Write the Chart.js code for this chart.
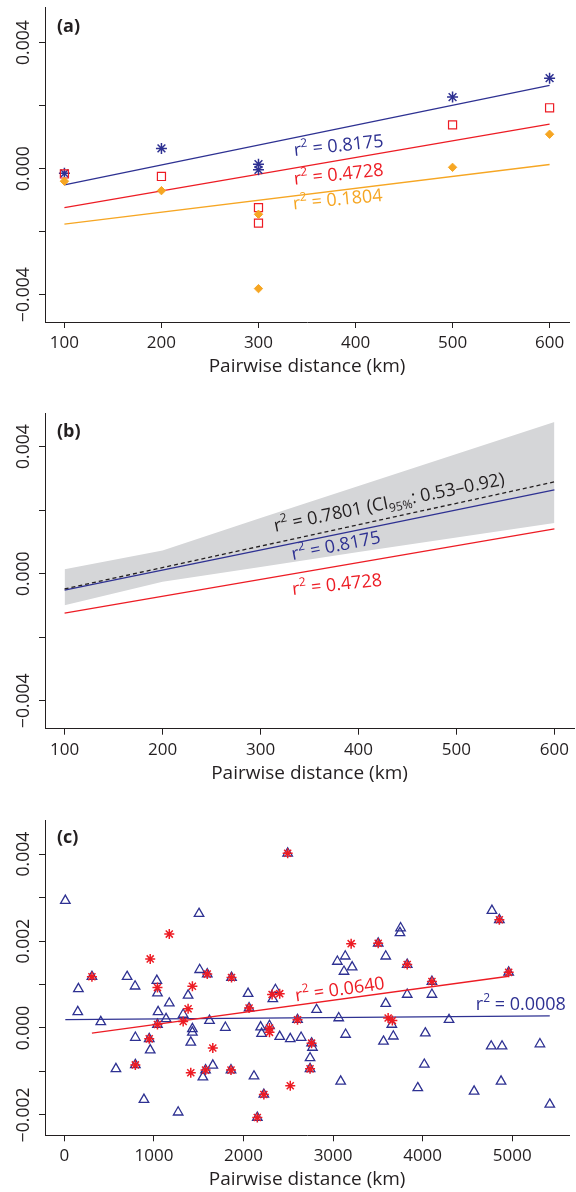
<!DOCTYPE html>
<html>
<head>
<meta charset="utf-8">
<script src="https://cdn.jsdelivr.net/npm/chart.js@4.4.1/dist/chart.umd.min.js"></script>
<style>
  html, body { margin: 0; padding: 0; background: #fff; }
  #wrap { position: relative; width: 576px; height: 1192px; }
  canvas { position: absolute; left: 0; }
</style>
</head>
<body>
<div id="wrap">
  <canvas id="pa" width="576" height="382" style="top:0px"></canvas>
  <canvas id="pb" width="576" height="389" style="top:400px"></canvas>
  <canvas id="pc" width="576" height="402" style="top:790px"></canvas>
</div>
<script>
// panel (a)
var distA = [100, 200, 300, 300, 500, 600];
var blueA = [-0.00015, 0.00064, 0.00014, -0.00004, 0.00227, 0.00287];
var redA = [-0.00017, -0.00025, -0.00124, -0.00173, 0.00139, 0.00193];
var orangeA = [-0.0004, -0.0007, -0.00145, -0.00381, 0.00004, 0.00109];
var fitX = [100, 600];
var blueFit = [-0.00052, 0.00264];
var redFit = [-0.00124, 0.00141];
var orangeFit = [-0.00176, 0.00013];

// panel (b)
var bandX = [100, 200, 300, 400, 500, 600];
var bandUpper = [0.00014, 0.00073, 0.00175, 0.00276, 0.00377, 0.00478];
var bandLower = [-0.00099, -0.00025, 0.00021, 0.00068, 0.00114, 0.0016];
var meanFit = [-0.00048, 0.00289];

// panel (c)
var triX = [10, 156, 149, 406, 307, 700, 789, 1032, 1039, 1171, 1046, 1135, 1039, 792, 947, 958, 792, 575, 888, 1270,
  1503, 1510, 1595, 1866, 1381, 2051, 2356, 2327, 2062, 1326, 1620, 1797, 1429, 1429, 1411, 2603, 2191, 2202, 2290,
  2404, 2522, 2643, 1657, 1576, 1546, 1860, 2117, 2227, 2154, 2493,
  3754, 3747, 3504, 3048, 3136, 3213, 3122, 3588, 3828, 2816, 3063, 3588, 3828, 4104, 4104, 3656, 3673, 3563, 3140,
  4030, 2760, 2770, 2743, 2743, 3085, 4019, 3946,
  4774, 4857, 4961, 4295, 4766, 4887, 5310, 4876, 4575, 5420];
var triY = [0.00293, 0.0009, 0.00037, 0.00014, 0.00118, 0.00118, 0.00096, 0.00109, 0.0008, 0.00057, 0.00037, 0.00021, 0.00008, -0.00022, -0.00025, -0.00051, -0.00085, -0.00094, -0.00165, -0.00194,
  0.00263, 0.00134, 0.00124, 0.00116, 0.00075, 0.00079, 0.00088, 0.00067, 0.00046, 0.00031, 0.00017, 0.00001, -0.00002, -0.0001, -0.00033, 0.00019, 0.00002, -0.00013, 0.00005,
  -0.0002, -0.00025, -0.00022, -0.00086, -0.00097, -0.00113, -0.00097, -0.00111, -0.00153, -0.00206, 0.00402,
  0.0023, 0.00219, 0.00195, 0.00153, 0.00165, 0.0014, 0.0013, 0.00165, 0.00146, 0.00042, 0.00023, 0.00056, 0.00077, 0.00107, 0.00077, 0.00008, -0.00019, -0.00031, -0.00015,
  -0.00012, -0.00035, -0.00045, -0.00069, -0.00094, -0.00123, -0.00084, -0.00138,
  0.0027, 0.00249, 0.00128, 0.00019, -0.00042, -0.00042, -0.00037, -0.00123, -0.00146, -0.00176];
var starX = [307, 947, 792, 1039, 1171, 958, 1039, 1595, 1866, 1429, 1381, 1326, 2493, 2319, 2404, 2062, 2603, 2290,
  2290, 1657, 1411, 1576, 1860, 2522, 2227, 2154, 3202, 3504, 3828, 4104, 3615, 3662, 2760, 2743, 4857, 4961];
var starY = [0.00118, -0.00025, -0.00085, 0.00008, 0.00216, 0.00159, 0.00093, 0.00124, 0.00116, 0.00096, 0.00044, 0.00015, 0.00402, 0.00077, 0.00079, 0.00046, 0.00019, 0,
  -0.0001, -0.00046, -0.00103, -0.00097, -0.00097, -0.00133, -0.00153, -0.00206, 0.00194, 0.00195, 0.00146, 0.00107, 0.00023, 0.00017, -0.00035, -0.00094, 0.00249, 0.00128];
var triFitX = [10, 5420];
var triFit = [0.00019, 0.00028];
var starFitX = [307, 4961];
var starFit = [-0.00012, 0.00119];

// ticks
var kmTicks = [100, 200, 300, 400, 500, 600];
var kmTicksC = [0, 1000, 2000, 3000, 4000, 5000];
var yTicksAB = [-0.004, -0.002, 0, 0.002, 0.004];
var yLabelsAB = ['\u22120.004', '', '0.000', '', '0.004'];
var yTicksC = [-0.002, -0.001, 0, 0.001, 0.002, 0.003, 0.004];
var yLabelsC = ['\u22120.002', '', '0.000', '', '0.002', '', '0.004'];

var BLUE = '#2e3192', RED = '#ed1c24', ORANGE = '#f6a623', INK = '#231f20', BAND = '#d5d6d8';
var FAMILY = '"Open Sans", sans-serif';

function pts(xs, ys) {
  return xs.map(function (x, i) { return { x: x, y: ys[i] }; });
}

function fitLine(xs, ys, color, extra) {
  var d = { type: 'scatter', data: pts(xs, ys), showLine: true, borderColor: color, borderWidth: 1.3,
    pointRadius: 0, fill: false, order: 5 };
  for (var k in extra) d[k] = extra[k];
  return d;
}

function rsq(val) {
  return [['r', 18, 0], ['2', 12, -8], [' = ' + val, 18, 0]];
}

function drawParts(ctx, parts, x, y, deg, color) {
  ctx.save();
  ctx.translate(x, y);
  ctx.rotate(deg * Math.PI / 180);
  ctx.fillStyle = color;
  ctx.textAlign = 'left';
  ctx.textBaseline = 'alphabetic';
  var cx = 0;
  parts.forEach(function (p) {
    ctx.font = p[1] + 'px ' + FAMILY;
    ctx.fillText(p[0], cx, p[2]);
    cx += ctx.measureText(p[0]).width;
  });
  ctx.restore();
}

function labelPad(labels) {
  var c = document.createElement('canvas').getContext('2d');
  c.font = '17.5px ' + FAMILY;
  var w = 0;
  labels.forEach(function (s) { w = Math.max(w, c.measureText(s).width); });
  return 45 - 6 - 24.4 - w / 2;
}

function makePanel(id, p) {
  var xH = p.height - p.areaBottom;
  var notes = {
    id: 'notes',
    afterDatasetsDraw: function (chart) {
      var ctx = chart.ctx, xs = chart.scales.x, ys = chart.scales.y;
      ctx.save();
      ctx.fillStyle = INK;
      ctx.font = 'bold 18px ' + FAMILY;
      ctx.textAlign = 'left';
      ctx.textBaseline = 'alphabetic';
      ctx.fillText(p.tag, 57, p.tagY);
      ctx.restore();
      p.notes.forEach(function (n) {
        drawParts(ctx, n.parts, xs.getPixelForValue(n.x), ys.getPixelForValue(n.y), n.angle, n.color);
      });
    }
  };
  return new Chart(document.getElementById(id), {
    type: 'scatter',
    data: { datasets: p.datasets },
    plugins: [notes],
    options: {
      responsive: false,
      animation: false,
      devicePixelRatio: 1,
      events: [],
      layout: { padding: { top: p.areaTop, right: 2, bottom: 0, left: 0 } },
      plugins: { legend: { display: false }, tooltip: { enabled: false } },
      scales: {
        x: {
          type: 'linear', min: p.xMin, max: p.xMax,
          afterBuildTicks: function (s) { s.ticks = p.xTicks.map(function (v) { return { value: v }; }); },
          afterFit: function (s) { s.height = xH; s.paddingLeft = 0; s.paddingRight = 0; },
          ticks: { autoSkip: false, maxRotation: 0, minRotation: 0, padding: 5, color: INK,
            font: { family: FAMILY, size: 17 }, callback: function (v) { return String(v); } },
          grid: { drawOnChartArea: false, drawTicks: true, tickLength: 6, color: INK, lineWidth: 1 },
          border: { display: true, color: INK, width: 1 },
          title: { display: true, text: 'Pairwise distance (km)', color: INK,
            font: { family: FAMILY, size: 19 }, padding: { top: 0, bottom: xH - 55.9 } }
        },
        y: {
          type: 'linear', min: p.yMin, max: p.yMax,
          afterBuildTicks: function (s) { s.ticks = p.yTicks.map(function (v) { return { value: v }; }); },
          afterFit: function (s) { s.width = 45; s.paddingTop = 0; s.paddingBottom = 0; },
          ticks: { autoSkip: false, minRotation: 90, maxRotation: 90, crossAlign: 'center',
            padding: labelPad(p.yLabels), color: INK, font: { family: FAMILY, size: 17.5 },
            callback: function (v, i) { return p.yLabels[i]; } },
          grid: { drawOnChartArea: false, drawTicks: true, tickLength: 6, color: INK, lineWidth: 1 },
          border: { display: true, color: INK, width: 1 }
        }
      }
    }
  });
}

makePanel('pa', {
  height: 382, areaTop: 5, areaBottom: 322, tag: '(a)', tagY: 31.5,
  xMin: 80, xMax: 620, xTicks: kmTicks,
  yMin: -0.00487, yMax: 0.00513, yTicks: yTicksAB, yLabels: yLabelsAB,
  datasets: [
    fitLine(fitX, blueFit, BLUE),
    fitLine(fitX, redFit, RED),
    fitLine(fitX, orangeFit, ORANGE),
    { data: pts(distA, blueA), pointStyle: 'star', pointRadius: 5.5, borderColor: BLUE, borderWidth: 1.5, order: 3 },
    { data: pts(distA, redA), pointStyle: 'rect', pointRadius: 5.7, borderColor: RED,
      backgroundColor: 'rgba(0,0,0,0)', borderWidth: 1.2, order: 2 },
    { data: pts(distA, orangeA), pointStyle: 'rectRot', pointRadius: 4.2, borderColor: ORANGE,
      backgroundColor: ORANGE, borderWidth: 1, order: 1 }
  ],
  notes: [
    { x: 337, y: 0.0004, angle: -6, color: BLUE, parts: rsq('0.8175') },
    { x: 337, y: -0.000515, angle: -6, color: RED, parts: rsq('0.4728') },
    { x: 336, y: -0.0013, angle: -5.5, color: ORANGE, parts: rsq('0.1804') }
  ]
});

makePanel('pb', {
  height: 389, areaTop: 13.3, areaBottom: 328.7, tag: '(b)', tagY: 36.5,
  xMin: 80, xMax: 620, xTicks: kmTicks,
  yMin: -0.00488, yMax: 0.00505, yTicks: yTicksAB, yLabels: yLabelsAB,
  datasets: [
    { type: 'line', data: pts(bandX, bandUpper), fill: '+1', backgroundColor: BAND, borderWidth: 0,
      pointRadius: 0, tension: 0, order: 10 },
    { type: 'line', data: pts(bandX, bandLower), fill: false, borderWidth: 0, pointRadius: 0, tension: 0, order: 11 },
    fitLine(fitX, redFit, RED, { order: 4 }),
    fitLine(fitX, blueFit, BLUE, { order: 3 }),
    fitLine(fitX, meanFit, INK, { order: 2, borderDash: [4, 3] })
  ],
  notes: [
    { x: 315, y: 0.00132, angle: -11.6, color: INK,
      parts: [['r', 18, 0], ['2', 12, -8], [' = 0.7801 (CI', 18, 0], ['95%', 12, 4], [': 0.53\u20130.92)', 18, 0]] },
    { x: 333, y: 0.00043, angle: -11, color: BLUE, parts: rsq('0.8175') },
    { x: 333, y: -0.00067, angle: -6, color: RED, parts: rsq('0.4728') }
  ]
});

makePanel('pc', {
  height: 402, areaTop: 30.7, areaBottom: 345.3, tag: '(c)', tagY: 53,
  xMin: -217, xMax: 5637, xTicks: kmTicksC,
  yMin: -0.00247, yMax: 0.00477, yTicks: yTicksC, yLabels: yLabelsC,
  datasets: [
    { data: pts(triX, triY), pointStyle: 'triangle', pointRadius: 5.5, borderColor: BLUE,
      backgroundColor: 'rgba(0,0,0,0)', borderWidth: 1.3, order: 6 },
    fitLine(triFitX, triFit, BLUE, { order: 4 }),
    { data: pts(starX, starY), pointStyle: 'star', pointRadius: 5, borderColor: RED, borderWidth: 1.5, order: 3 },
    fitLine(starFitX, starFit, RED, { order: 2 })
  ],
  notes: [
    { x: 2587, y: 0.00061, angle: -8, color: RED, parts: rsq('0.0640') },
    { x: 4594, y: 0.00042, angle: 0, color: BLUE, parts: rsq('0.0008') }
  ]
});
</script>
</body>
</html>
